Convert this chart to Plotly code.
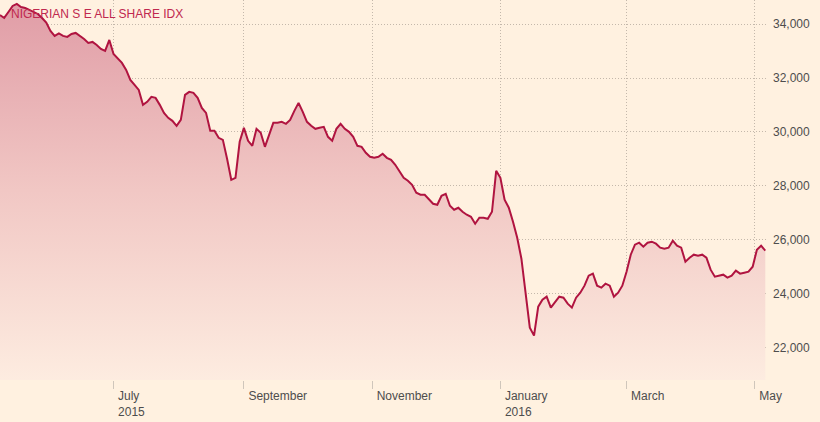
import pandas as pd
import plotly.graph_objects as go

title_text = "NIGERIAN S E ALL SHARE IDX"
start_date = "2015-05-08"

# index level read every two calendar days from 8 May 2015
values = [
    34335, 34224, 34446, 34668, 34742, 34631, 34594, 34520, 34446, 34372,
    34224, 34057, 33743, 33558, 33650, 33558, 33521, 33632, 33669, 33558,
    33447, 33299, 33336, 33225, 33077, 33003, 33410, 32892, 32707, 32559,
    32300, 31930, 31745, 31560, 31005, 31116, 31301, 31264, 31005, 30709,
    30524, 30413, 30228, 30450, 31375, 31486, 31449, 31264, 30894, 30709,
    30043, 30043, 29784, 29710, 29007, 28230, 28304, 29636, 30154, 29673,
    29488, 30117, 29969, 29451, 29895, 30339, 30339, 30376, 30302, 30450,
    30783, 31079, 30746, 30376, 30228, 30117, 30154, 30191, 29821, 29673,
    30117, 30302, 30117, 30006, 29821, 29488, 29451, 29229, 29081, 29044,
    29081, 29192, 29044, 28970, 28785, 28526, 28304, 28193, 28045, 27749,
    27675, 27675, 27527, 27342, 27305, 27638, 27712, 27268, 27120, 27194,
    27046, 26935, 26861, 26602, 26824, 26824, 26787, 27046, 28563, 28304,
    27490, 27194, 26676, 26084, 25307, 24123, 22754, 22458, 23531, 23790,
    23901, 23494, 23679, 23901, 23864, 23642, 23494, 23864, 24049, 24308,
    24678, 24752, 24308, 24234, 24382, 24308, 23901, 24049, 24308, 24826,
    25455, 25825, 25899, 25751, 25899, 25936, 25862, 25714, 25677, 25714,
    25973, 25788, 25714, 25196, 25344, 25455, 25418, 25455, 25344, 24900,
    24641, 24678, 24715, 24604, 24678, 24863, 24752, 24789, 24826, 25011,
    25640, 25788, 25603,
]
dates = pd.date_range(start_date, periods=len(values), freq="2D")

tick_dates = ["2015-07-01", "2015-09-01", "2015-11-01", "2016-01-01", "2016-03-01", "2016-05-01"]
tick_labels = ["July<br>2015", "September", "November", "January<br>2016", "March", "May"]
y_ticks = [22000, 24000, 26000, 28000, 30000, 32000, 34000]

y_min, y_max = 20814, 34889
x_range = ["2015-05-08", "2016-05-06 08:00"]

bg = "#fff1e0"
line_col = "#b01440"
grid_col = "#c4b8ab"
font_fam = "Liberation Sans, Arial, sans-serif"

fig = go.Figure()
fig.add_trace(go.Scatter(
    x=dates, y=values, mode="lines",
    line=dict(color=line_col, width=2),
    fill="tozeroy",
    fillgradient=dict(type="vertical",
                      colorscale=[[0, "#fdece0"], [0.5, "#f1c7c4"], [1, "#e09ca6"]],
                      start=y_min, stop=y_max),
    hoverinfo="skip", showlegend=False,
))

fig.add_annotation(
    text=title_text, xref="paper", yref="paper", x=0.012, y=0.962,
    xanchor="left", yanchor="middle", showarrow=False,
    font=dict(family=font_fam, size=12, color="#c0284f"),
)

fig.update_layout(
    width=820, height=422,
    margin=dict(l=0, r=54, t=0, b=42),
    paper_bgcolor=bg, plot_bgcolor=bg,
    showlegend=False,
    xaxis=dict(
        type="date", range=x_range,
        tickvals=tick_dates, ticktext=tick_labels,
        ticks="outside", ticklen=8, tickcolor="#cfc6bb", tickwidth=1,
        showgrid=True, gridcolor=grid_col, griddash="1px,2px", gridwidth=1,
        zeroline=False, showline=False,
        ticklabelposition="outside right",
        ticklabelstandoff=5, ticklabelshift=4,
        tickfont=dict(family=font_fam, size=12, color="#4d4d4d"),
    ),
    yaxis=dict(
        side="right", range=[y_min, y_max],
        tickvals=y_ticks, tickformat=",",
        ticks="", showgrid=True, gridcolor=grid_col, griddash="1px,2px", gridwidth=1,
        zeroline=False, showline=False,
        ticklabelstandoff=6,
        tickfont=dict(family=font_fam, size=12, color="#4d4d4d"),
    ),
)

fig.write_html("out.html")
